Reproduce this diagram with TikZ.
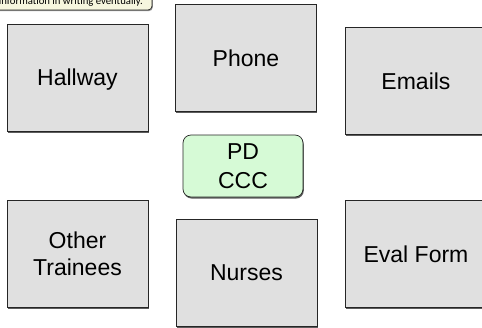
\documentclass[tikz,border=0pt]{standalone}
\usepackage{fontspec}
\setmainfont{Liberation Sans}
\newfontfamily\notefont{Carlito}
\usetikzlibrary{shadows}
\definecolor{boxgray}{RGB}{224,224,224}
\definecolor{mint}{RGB}{214,250,214}
\definecolor{notecream}{RGB}{246,246,222}
\begin{document}
\begin{tikzpicture}[x=1pt,y=-1pt,
  boxshadow/.style={drop shadow={shadow xshift=0.8pt, shadow yshift=-1.6pt, fill=black!75, opacity=0.85}},
  place/.style={draw=black!85, line width=0.7pt, fill=boxgray, minimum width=141pt,
    minimum height=107pt, inner sep=0pt, align=center, text depth=0pt,
    font=\fontsize{23}{27}\selectfont, boxshadow},
  hub/.style={draw=black!85, line width=0.7pt, fill=mint, rounded corners=8pt,
    minimum width=120pt, minimum height=62pt, inner sep=0pt, align=center,
    text depth=0pt, font=\fontsize{23}{29}\selectfont, boxshadow},
  note/.style={draw=black!85, line width=0.7pt, fill=notecream, rounded corners=4pt,
    drop shadow={shadow xshift=0.8pt, shadow yshift=-1.2pt, fill=black!60, opacity=0.7}}]
  \useasboundingbox (0,0) rectangle (482,327);
  \clip (0,0) rectangle (482,327);

  % note strip along the top edge
  \draw[note] (-10,-30) rectangle (152,10);
  \node[anchor=base east, inner sep=0pt, font=\notefont\fontsize{10.7}{12}\selectfont] (notetext) at (143,4.5) {information in writing eventually.};

  % communication channels
  \node[place] (hallway) at (77.5,77.5) {Hallway};
  \node[place] (phone) at (246,58) {Phone};
  \node[place] (emails) at (416,81) {Emails};
  \node[place] (trainees) at (77.5,254) {Other\\Trainees};
  \node[place] (nurses) at (246.5,273) {Nurses};
  \node[place] (evalform) at (416,254) {Eval Form};

  % centre
  \node[hub] (pd) at (243,166) {PD\\CCC};
\end{tikzpicture}
\end{document}
